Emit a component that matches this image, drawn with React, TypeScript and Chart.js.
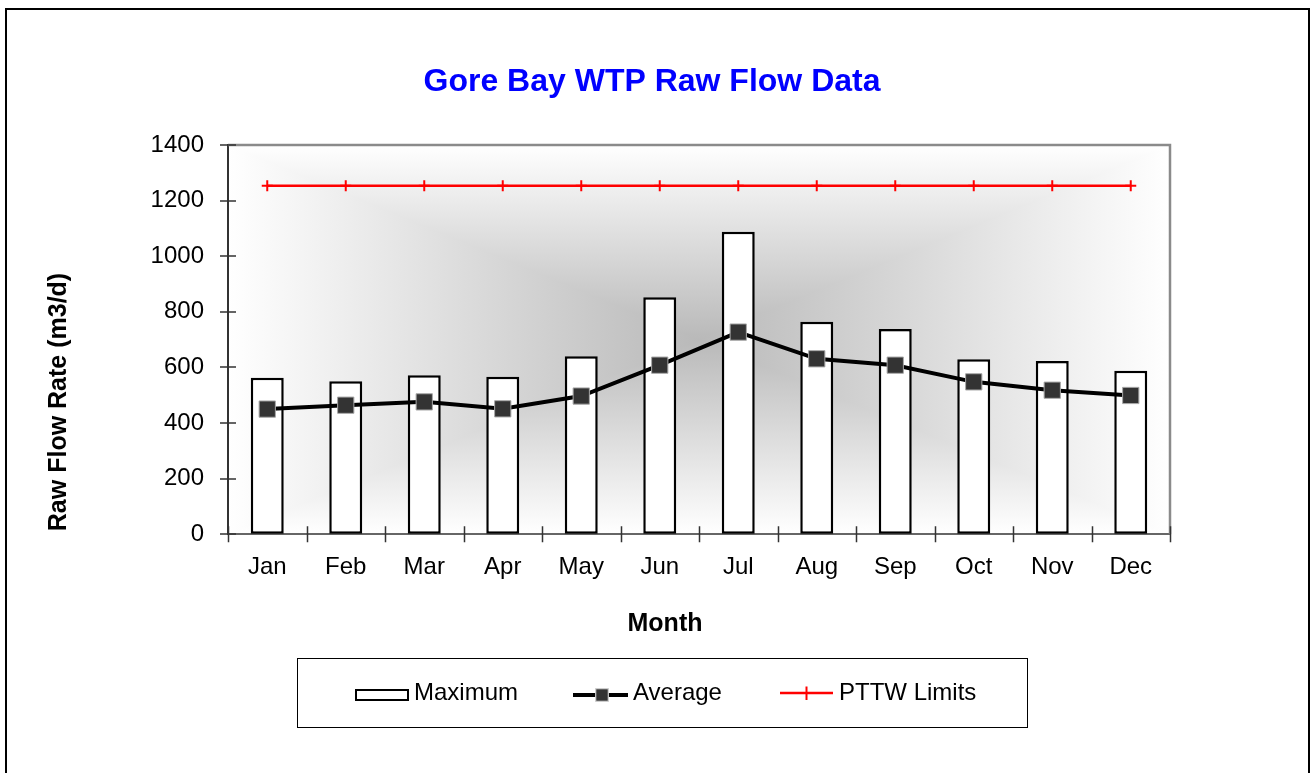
import React, { useEffect, useRef } from 'react';
import { Chart, registerables } from 'chart.js';

Chart.register(...registerables);

const months = ['Jan', 'Feb', 'Mar', 'Apr', 'May', 'Jun', 'Jul', 'Aug', 'Sep', 'Oct', 'Nov', 'Dec'];
const maximumFlow = [563, 550, 572, 566, 640, 852, 1088, 764, 738, 629, 623, 588];
const averageFlow = [450, 464, 476, 451, 497, 608, 727, 631, 608, 548, 518, 499];
const pttwLimits = [1253, 1253, 1253, 1253, 1253, 1253, 1253, 1253, 1253, 1253, 1253, 1253];
const yMin = 0;
const yMax = 1400;
const yStep = 200;
const chartTitle = 'Gore Bay WTP Raw Flow Data';
const xTitle = 'Month';
const yTitle = 'Raw Flow Rate (m3/d)';
const legendLabels = ['Maximum', 'Average', 'PTTW Limits'];

const FONT = "'Liberation Sans', Arial, sans-serif";

const backgroundPlugin = {
  id: 'bgGradient',
  beforeDraw(chart: any) {
    const { ctx, chartArea: a } = chart;
    ctx.save();
    ctx.fillStyle = '#ffffff';
    ctx.fillRect(0, 0, chart.width, chart.height);
    const cx = (a.left + a.right) / 2;
    const cy = (a.top + a.bottom) / 2;
    const dark = '#b9b9b9';
    let g = ctx.createLinearGradient(a.left, 0, cx, 0);
    g.addColorStop(0, '#ffffff');
    g.addColorStop(1, dark);
    ctx.fillStyle = g;
    ctx.fillRect(a.left, a.top, cx - a.left + 0.5, a.bottom - a.top);
    g = ctx.createLinearGradient(a.right, 0, cx, 0);
    g.addColorStop(0, '#ffffff');
    g.addColorStop(1, dark);
    ctx.fillStyle = g;
    ctx.fillRect(cx - 0.5, a.top, a.right - cx + 0.5, a.bottom - a.top);
    g = ctx.createLinearGradient(0, a.top, 0, cy);
    g.addColorStop(0, '#ffffff');
    g.addColorStop(1, dark);
    ctx.fillStyle = g;
    ctx.beginPath();
    ctx.moveTo(a.left, a.top);
    ctx.lineTo(a.right, a.top);
    ctx.lineTo(cx, cy);
    ctx.closePath();
    ctx.fill();
    g = ctx.createLinearGradient(0, a.bottom, 0, cy);
    g.addColorStop(0, '#ffffff');
    g.addColorStop(1, dark);
    ctx.fillStyle = g;
    ctx.beginPath();
    ctx.moveTo(a.left, a.bottom);
    ctx.lineTo(a.right, a.bottom);
    ctx.lineTo(cx, cy);
    ctx.closePath();
    ctx.fill();
    ctx.restore();
  },
};

const decorPlugin = {
  id: 'decor',
  afterDraw(chart: any) {
    const { ctx, chartArea: a } = chart;
    const xs = chart.scales.x;
    const ys = chart.scales.y;
    ctx.save();
    // plot top/right border
    ctx.strokeStyle = '#8a8a8a';
    ctx.lineWidth = 2.5;
    ctx.beginPath();
    ctx.moveTo(a.left, a.top);
    ctx.lineTo(a.right, a.top);
    ctx.lineTo(a.right, a.bottom);
    ctx.stroke();
    // cross tick marks
    ctx.strokeStyle = '#333333';
    ctx.lineWidth = 1.5;
    ctx.beginPath();
    for (let i = 0; i <= months.length; i++) {
      const px = Math.round(xs.getPixelForValue(i - 0.5)) + 0.5;
      ctx.moveTo(px, a.bottom - 8);
      ctx.lineTo(px, a.bottom + 8);
    }
    for (const t of ys.ticks) {
      const py = Math.round(ys.getPixelForValue(t.value));
      ctx.moveTo(a.left - 8, py);
      ctx.lineTo(a.left + 8, py);
    }
    ctx.stroke();

    // axis titles
    ctx.fillStyle = '#000000';
    ctx.font = `bold 25px ${FONT}`;
    ctx.textAlign = 'center';
    ctx.textBaseline = 'middle';
    ctx.fillText(xTitle, 665, 624);
    ctx.save();
    ctx.translate(59, 402);
    ctx.rotate(-Math.PI / 2);
    ctx.fillText(yTitle, 0, 0);
    ctx.restore();

    // outer frame
    ctx.strokeStyle = '#000000';
    ctx.lineWidth = 2;
    ctx.strokeRect(6, 9, 1303, 800);

    // legend box
    ctx.lineWidth = 1;
    ctx.strokeRect(297.5, 658.5, 730, 69);

    const ly = 693;
    // Maximum icon
    ctx.fillStyle = '#ffffff';
    ctx.fillRect(356, 690, 52, 10);
    ctx.lineWidth = 2;
    ctx.strokeStyle = '#000000';
    ctx.strokeRect(356, 690, 52, 10);
    // Average icon
    ctx.lineWidth = 4;
    ctx.beginPath();
    ctx.moveTo(573, 695);
    ctx.lineTo(628, 695);
    ctx.stroke();
    ctx.fillStyle = '#333333';
    ctx.strokeStyle = '#cfcfcf';
    ctx.lineWidth = 1.2;
    ctx.fillRect(595.7, 688.7, 12.6, 12.6);
    ctx.strokeRect(595.7, 688.7, 12.6, 12.6);
    // PTTW icon
    ctx.strokeStyle = '#ff0000';
    ctx.lineWidth = 2.5;
    ctx.beginPath();
    ctx.moveTo(780, 693);
    ctx.lineTo(833, 693);
    ctx.stroke();
    ctx.lineWidth = 2;
    ctx.beginPath();
    ctx.moveTo(806.5, 686.5);
    ctx.lineTo(806.5, 700);
    ctx.stroke();

    // legend text
    ctx.fillStyle = '#000000';
    ctx.font = `24px ${FONT}`;
    ctx.textBaseline = 'middle';
    ctx.textAlign = 'left';
    ctx.fillText(legendLabels[0], 414, ly);
    ctx.fillText(legendLabels[1], 633, ly);
    ctx.fillText(legendLabels[2], 839, ly);
    ctx.restore();
  },
};

export default function App() {
  const ref = useRef<HTMLCanvasElement>(null);
  useEffect(() => {
    const chart = new Chart(ref.current as HTMLCanvasElement, {
      type: 'bar',
      data: {
        labels: months,
        datasets: [
          {
            type: 'line',
            label: legendLabels[2],
            data: pttwLimits,
            borderColor: '#ff0000',
            borderWidth: 2.5,
            pointStyle: 'cross',
            pointRadius: 5.5,
            pointBorderWidth: 2,
            pointBorderColor: '#ff0000',
            fill: false,
            order: 1,
          } as any,
          {
            type: 'line',
            label: legendLabels[1],
            data: averageFlow,
            borderColor: '#000000',
            borderWidth: 4,
            pointStyle: 'rect',
            pointRadius: 11.5,
            pointBackgroundColor: '#333333',
            pointBorderColor: '#a8a8a8',
            pointBorderWidth: 1,
            fill: false,
            order: 2,
          } as any,
          {
            type: 'bar',
            label: legendLabels[0],
            data: maximumFlow,
            backgroundColor: '#ffffff',
            borderColor: '#000000',
            borderWidth: 2.5,
            borderSkipped: false,
            barPercentage: 0.42,
            categoryPercentage: 1,
            order: 3,
          } as any,
        ],
      },
      options: {
        responsive: false,
        animation: false,
        devicePixelRatio: 1,
        layout: { padding: { top: 0, left: 15, right: 25, bottom: 172 } },
        plugins: {
          legend: { display: false },
          tooltip: { enabled: false },
          title: {
            display: true,
            text: chartTitle,
            color: '#0000ff',
            font: { family: FONT, size: 32, weight: 'bold' },
            padding: { top: 63, bottom: 43.6 },
          },
        },
        scales: {
          x: {
            grid: { display: true, drawOnChartArea: false, drawTicks: false, offset: true },
            border: { display: true, color: '#666666', width: 2 },
            ticks: { color: '#000000', font: { family: FONT, size: 24 }, padding: 19, maxRotation: 0, autoSkip: false },
          },
          y: {
            min: yMin,
            max: yMax,
            grid: { display: true, drawOnChartArea: false, drawTicks: false },
            border: { display: true, color: '#333333', width: 2 },
            ticks: {
              stepSize: yStep,
              color: '#000000',
              font: { family: FONT, size: 24 },
              padding: 24,
              callback: (v: any) => String(v),
            },
            afterFit: (s: any) => {
              s.width = 213;
            },
          },
          yPad: {
            type: 'linear',
            position: 'right',
            display: true,
            grid: { display: false },
            border: { display: false },
            ticks: { display: false },
            afterFit: (s: any) => {
              s.width = 119;
            },
          },
        },
      } as any,
      plugins: [backgroundPlugin, decorPlugin],
    });
    return () => chart.destroy();
  }, []);
  return (
    <div style={{ position: 'fixed', left: 0, top: 0, width: 1314, height: 773, background: '#ffffff' }}>
      <canvas ref={ref} width={1314} height={773} style={{ display: 'block' }} />
    </div>
  );
}
